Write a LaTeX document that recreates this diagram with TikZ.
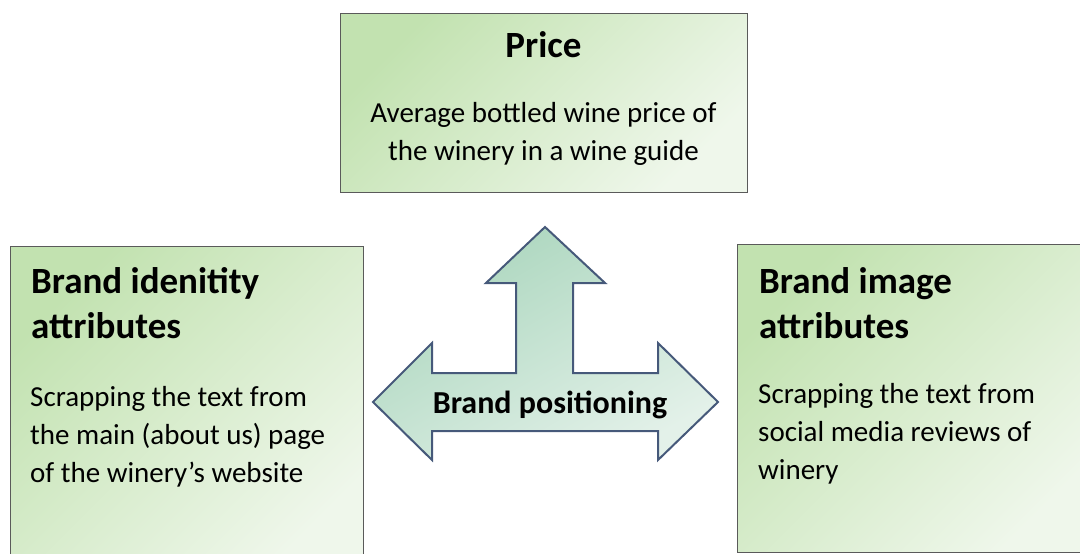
\documentclass[tikz,border=0pt]{standalone}
\usepackage{fontspec}
\setmainfont{Carlito}

\definecolor{boxtop}{HTML}{C2E2B0}
\definecolor{boxbot}{HTML}{EFF7EB}
\definecolor{boxline}{HTML}{5A5A5A}
\definecolor{arrtop}{HTML}{A9D5BC}
\definecolor{arrbot}{HTML}{E3F1E9}
\definecolor{arrline}{HTML}{46597A}

\tikzset{
	panel/.style={draw=boxline, line width=1.2pt, top color=boxtop, bottom color=boxbot, shading angle=45, anchor=north west, inner sep=0pt},
	headtext/.style={font=\bfseries\fontsize{37}{45}\selectfont, align=left, inner sep=0pt},
	bodytext/.style={font=\fontsize{29}{38}\selectfont, align=left, inner sep=0pt},
}

\begin{document}
\begin{tikzpicture}[x=1pt, y=-1pt]
	%%%%% FRAME %%%%%
	\useasboundingbox (0,0) rectangle (1080,554);
	\clip (0,0) rectangle (1080,554);
	
	%%%%% BOXES %%%%%
	\node[panel, minimum width=407pt, minimum height=179pt] (price) at (340,13) {};
	\node[panel, minimum width=353pt, minimum height=330pt] (identity) at (10,246) {};
	\node[panel, minimum width=360pt, minimum height=308pt] (image) at (737,244) {};
	
	\node[headtext, anchor=north] (pricehead) at (543.5,31) {Price};
	\node[bodytext, align=center, anchor=north] (pricebody) at (543.5,102) {Average bottled wine price of\\the winery in a wine guide};
	
	\node[headtext, anchor=north west] (identityhead) at (31,267) {Brand idenitity\\attributes};
	\node[bodytext, anchor=north west] (identitybody) at (30,386) {Scrapping the text from\\the main (about us) page\\of the winery’s website};
	
	\node[headtext, anchor=north west] (imagehead) at (759,267) {Brand image\\attributes};
	\node[bodytext, anchor=north west] (imagebody) at (758,383) {Scrapping the text from\\social media reviews of\\winery};
	
	%%%%% ARROW %%%%%
	\draw[draw=arrline, line width=2pt, line join=miter, top color=arrtop, bottom color=arrbot, shading angle=30]
		(545,227) -- (605,283) -- (573,283) -- (573,373) -- (658,373) -- (658,343) -- (718,402)
		-- (658,460) -- (658,431) -- (432,431) -- (432,460) -- (373,402) -- (432,343)
		-- (432,373) -- (516,373) -- (516,283) -- (486,283) -- cycle;
	\node[font=\bfseries\fontsize{32}{38}\selectfont, inner sep=0pt, anchor=base] (positioning) at (550,413) {Brand positioning};
	
\end{tikzpicture}
\end{document}
